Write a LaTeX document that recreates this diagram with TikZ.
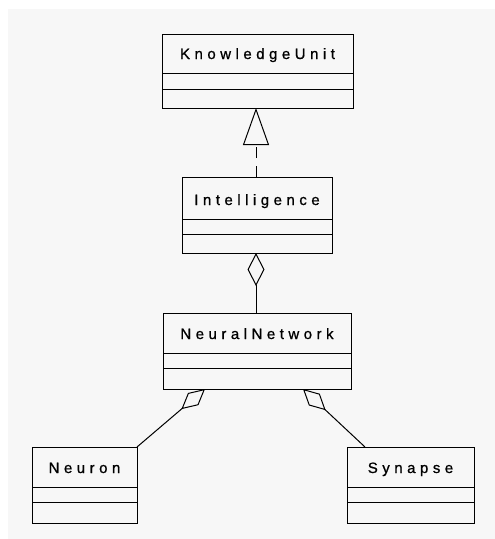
\documentclass[tikz,border=0pt]{standalone}
\usepackage{fontspec}
\setmainfont{Liberation Sans}
\newfontfamily\umlfont[LetterSpace=30, FakeBold=0.9]{Liberation Sans}
\usetikzlibrary{arrows.meta,calc}
\definecolor{canvas}{HTML}{F7F7F7}

% A UML class: box from (x1,y1) to (x2,y2), compartment lines at d1 and d2
\newcommand\umlclass[8]{%
  \node[classbox, anchor=north west,
        minimum width={(#4-#2)*1pt}, minimum height={(#5-#3)*1pt}]
        (#1) at (#2,#3) {};
  \draw[classline] (#2,#6) -- (#4,#6);
  \draw[classline] (#2,#7) -- (#4,#7);
  \node[classname, anchor=base] (#1-name) at ({(#2+#4)/2},{#6-14}) {#8};
}

\begin{document}
\begin{tikzpicture}[x=1pt,y=-1pt,
  classbox/.style={draw=black, line width=1pt, inner sep=0pt, outer sep=0pt},
  classline/.style={draw=black, line width=1pt},
  classname/.style={font=\umlfont\fontsize{15}{18}\selectfont, inner sep=0pt, text=black},
  realize/.style={line width=1pt, dash pattern=on 11pt off 8pt,
    -{Triangle[open, length=37pt, width=26pt, line width=1pt]}},
  aggregate/.style={line width=1pt,
    -{Diamond[open, length=33pt, width=17pt, line width=1pt]}},
  aggregateside/.style={line width=1pt,
    -{Diamond[open, length=31pt, width=16pt, line width=1pt]}}
]
  % canvas
  \fill[white] (0,0) rectangle (495,539);
  \fill[canvas] (8,9) rectangle (495,539);
  \useasboundingbox (0,0) rectangle (495,539);

  % classes
  \umlclass{ku}{162}{34}{353}{108}{73}{89}{KnowledgeUnit}
  \umlclass{intel}{182}{177}{332}{253}{219}{234}{Intelligence}
  \umlclass{nn}{163}{313}{351}{389}{353}{368}{NeuralNetwork}
  \umlclass{neuron}{32}{447}{137}{523}{487}{502}{Neuron}
  \umlclass{syn}{347}{447}{474}{523}{487}{502}{Synapse}

  % attachment points on the NeuralNetwork bottom edge
  \coordinate (nnL) at ([xshift=42pt]nn.south west);
  \coordinate (nnR) at ([xshift=-48pt]nn.south east);
  \coordinate (synT) at ([xshift=18pt]syn.north west);

  % relations
  \draw[realize] ($(intel.north)+(-1,0)$) -- ($(ku.south)+(-1.5,0)$);
  \draw[aggregate] ($(nn.north)+(-1,0)$) -- ($(intel.south)+(-1,0)$);
  \draw[aggregateside] (neuron.north east) -- (nnL);
  \draw[aggregateside] (synT) -- (nnR);
\end{tikzpicture}
\end{document}
